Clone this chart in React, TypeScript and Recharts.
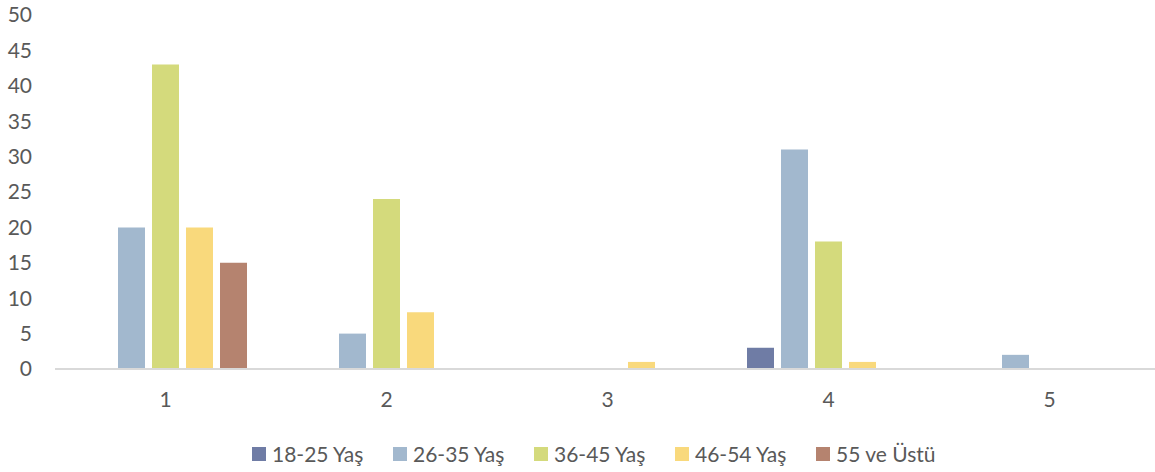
import { Bar, BarChart, Legend, XAxis, YAxis } from 'recharts';

const categories = ['1', '2', '3', '4', '5'];
const seriesNames = ['18-25 Yaş', '26-35 Yaş', '36-45 Yaş', '46-54 Yaş', '55 ve Üstü'];
const age18to25 = [0, 0, 0, 3, 0];
const age26to35 = [20, 5, 0, 31, 2];
const age36to45 = [43, 24, 0, 18, 0];
const age46to54 = [20, 8, 1, 1, 0];
const age55plus = [15, 0, 0, 0, 0];
const yTicks = [0, 5, 10, 15, 20, 25, 30, 35, 40, 45, 50];

const SERIES_COLORS = ['#6F7CA5', '#A2B8CE', '#D4DA7C', '#F9D97C', '#B5836F'];
const seriesValues = [age18to25, age26to35, age36to45, age46to54, age55plus];

const data = categories.map((c, i) => {
  const row: Record<string, string | number> = { name: c };
  seriesNames.forEach((s, j) => {
    row[s] = seriesValues[j][i];
  });
  return row;
});

const FONT = 'Lato, "Open Sans", sans-serif';
const TEXT = '#595959';

function AgeLegend() {
  return (
    <div
      style={{
        display: 'flex',
        paddingLeft: 252,
        paddingTop: 28,
        fontFamily: FONT,
        fontSize: 21,
        color: TEXT,
      }}
    >
      {seriesNames.map((s, i) => (
        <div key={s} style={{ width: 141, display: 'flex', alignItems: 'center', height: 14 }}>
          <span
            style={{
              width: 14,
              height: 14,
              background: SERIES_COLORS[i],
              marginRight: 6,
              flexShrink: 0,
            }}
          />
          <span style={{ whiteSpace: 'nowrap', lineHeight: '14px' }}>{s}</span>
        </div>
      ))}
    </div>
  );
}

export default function App() {
  return (
    <div
      style={{
        position: 'absolute',
        left: 0,
        top: 0,
        width: 1155,
        height: 472,
        overflow: 'hidden',
        background: '#fff',
      }}
    >
      <BarChart
        width={1160}
        height={472}
        data={data}
        margin={{ top: 15, right: 0, bottom: 0, left: 0 }}
        barCategoryGap={29}
        barGap={7}
      >
        <XAxis
          dataKey="name"
          height={50}
          tickLine={false}
          tickSize={0}
          tickMargin={23}
          axisLine={{ stroke: '#D9D9D9', strokeWidth: 2 }}
          tick={{ fill: TEXT, fontSize: 21, fontFamily: FONT }}
        />
        <YAxis
          width={55}
          domain={[0, 50]}
          ticks={yTicks}
          axisLine={false}
          tickLine={false}
          tickSize={0}
          tickMargin={23}
          tick={{ fill: TEXT, fontSize: 21, fontFamily: FONT }}
        />
        <Legend
          verticalAlign="bottom"
          content={<AgeLegend />}
          wrapperStyle={{ height: 53, width: 1155, left: 0 }}
        />
        {seriesNames.map((s, i) => (
          <Bar key={s} dataKey={s} fill={SERIES_COLORS[i]} isAnimationActive={false} />
        ))}
      </BarChart>
    </div>
  );
}
